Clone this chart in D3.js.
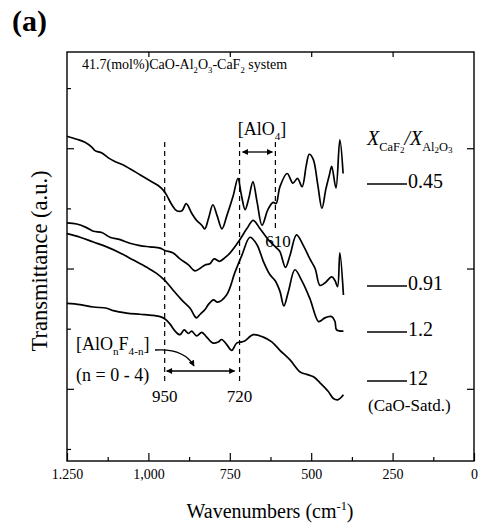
<!DOCTYPE html>
<html>
<head>
<meta charset="utf-8">
<script src="https://cdn.jsdelivr.net/npm/d3@7/dist/d3.min.js"></script>
<style>
  body { margin: 0; background: #fff; }
  svg text { font-family: "Liberation Serif", "DejaVu Serif", serif; }
</style>
</head>
<body>
<svg id="chart" width="481" height="526"></svg>
<script>
// IR transmittance spectra, 41.7 mol% CaO-Al2O3-CaF2 slags
// each series: [wavenumber (cm-1), transmittance (a.u., offset)]
const ratioLabels = ["0.45", "0.91", "1.2", "12"];

const spec045 = [
  [1250,3.10],[1220,3.075],[1195,3.05],[1174,3.01],[1164,2.98],[1143,2.96],[1123,2.92],
  [1103,2.89],[1077,2.86],[1057,2.83],[1026,2.78],[995,2.73],[970,2.69],[954,2.65],
  [944,2.61],[928,2.53],[913,2.48],[897,2.48],[884,2.54],[867,2.46],[852,2.40],[836,2.36],
  [827,2.33],[815,2.42],[802,2.53],[789,2.44],[774,2.33],[759,2.44],[740,2.60],[725,2.75],
  [715,2.62],[703,2.49],[692,2.58],[679,2.72],[666,2.55],[651,2.36],[633,2.49],[617,2.55],
  [608,2.54],[596,2.68],[574,2.79],[556,2.71],[542,2.75],[528,2.68],[515,2.86],[506,2.95],
  [494,2.91],[480,2.70],[467,2.50],[455,2.66],[444,2.78],[437,2.85],[424,2.67],[412,3.07],
  [402,2.79]
];

const spec091 = [
  [1250,2.38],[1220,2.37],[1190,2.34],[1169,2.31],[1143,2.30],[1118,2.26],[1087,2.24],
  [1057,2.21],[1026,2.19],[995,2.18],[964,2.17],[949,2.15],[924,2.13],[903,2.08],[877,2.03],
  [857,1.98],[842,2.00],[826,2.03],[811,2.04],[798,2.08],[782,2.06],[765,2.09],[749,2.13],
  [724,2.22],[698,2.33],[678,2.40],[657,2.33],[632,2.24],[606,2.17],[596,2.14],[579,2.01],
  [565,2.11],[545,2.28],[524,2.19],[504,2.08],[488,2.00],[473,1.86],[458,1.88],[437,1.93],
  [427,1.90],[419,1.85],[412,2.13],[401,1.78]
];

const spec12 = [
  [1250,2.29],[1210,2.26],[1169,2.22],[1128,2.18],[1087,2.13],[1046,2.07],[1005,2.01],
  [975,1.96],[949,1.90],[924,1.82],[898,1.74],[872,1.67],[857,1.60],[852,1.59],[841,1.62],
  [826,1.66],[816,1.70],[800,1.74],[788,1.72],[760,1.78],[734,1.97],[713,2.11],[688,2.26],
  [667,2.20],[647,2.06],[627,1.95],[611,1.90],[596,1.81],[584,1.69],[570,1.81],[550,1.99],
  [529,1.90],[504,1.75],[478,1.56],[468,1.57],[458,1.59],[437,1.60],[427,1.56],[422,1.49],
  [401,1.48]
];

const spec120 = [
  [1250,1.71],[1210,1.70],[1169,1.68],[1128,1.67],[1108,1.65],[1067,1.63],[1026,1.62],
  [985,1.61],[964,1.60],[949,1.58],[934,1.54],[918,1.48],[903,1.45],[890,1.49],[877,1.46],
  [867,1.48],[852,1.44],[836,1.47],[821,1.43],[801,1.38],[785,1.39],[775,1.41],[760,1.37],
  [744,1.32],[729,1.38],[713,1.39],[703,1.40],[678,1.45],[647,1.43],[621,1.39],[596,1.32],
  [565,1.24],[534,1.14],[514,1.12],[493,1.10],[473,1.05],[448,0.98],[432,0.92],[417,0.91],
  [401,0.95]
];

const seriesList = [spec045, spec091, spec12, spec120];

const xMajorTicks = [1250, 1000, 750, 500, 250, 0];
const xTickLabels = ["1.250", "1,000", "750", "500", "250", "0"];
const xMinorTicks = [1125, 875, 625, 375, 125];
const yMajorTicks = [1, 2, 3];
const yMinorTicks = [0.5, 1.5, 2.5, 3.5];
const bandMarks = [950, 720, 610];

// ---- layout ----
const FONT = "Liberation Serif, DejaVu Serif, serif";
const svg = d3.select("#chart");
const L = 67, R = 474, T = 52, B = 461;

const x = d3.scaleLinear().domain([1250, 0]).range([L, R]);
const y = d3.scaleLinear().domain([0.4, 3.8]).range([B, T]);

// arrowhead marker
const defs = svg.append("defs");
defs.append("marker")
  .attr("id", "head")
  .attr("viewBox", "0 0 10 10")
  .attr("refX", 9).attr("refY", 5)
  .attr("markerWidth", 9).attr("markerHeight", 6)
  .attr("markerUnits", "userSpaceOnUse")
  .attr("orient", "auto-start-reverse")
  .append("path").attr("d", "M0,0 L10,5 L0,10 z").attr("fill", "#000");

// axes
function clean(g) {
  g.select(".domain").remove();
  g.selectAll("line").attr("stroke", "#000").attr("stroke-width", 1.2);
}

svg.append("g").attr("transform", `translate(0,${B})`)
  .call(d3.axisBottom(x).tickValues(xMajorTicks)
    .tickFormat((d, i) => xTickLabels[i]).tickSizeInner(-8).tickSizeOuter(0).tickPadding(8))
  .call(clean)
  .call(g => g.attr("font-family", FONT).attr("font-size", 14)
    .selectAll("text").attr("fill", "#000"));

svg.append("g").attr("transform", `translate(0,${B})`)
  .call(d3.axisBottom(x).tickValues(xMinorTicks).tickFormat("").tickSizeInner(-4).tickSizeOuter(0))
  .call(clean);

svg.append("g").attr("transform", `translate(0,${T})`)
  .call(d3.axisTop(x).tickValues(xMajorTicks.slice(1, -1)).tickFormat("").tickSizeInner(-5).tickSizeOuter(0))
  .call(clean);

svg.append("g").attr("transform", `translate(${L},0)`)
  .call(d3.axisLeft(y).tickValues(yMajorTicks).tickFormat("").tickSizeInner(-7).tickSizeOuter(0))
  .call(clean);

svg.append("g").attr("transform", `translate(${L},0)`)
  .call(d3.axisLeft(y).tickValues(yMinorTicks).tickFormat("").tickSizeInner(-4).tickSizeOuter(0))
  .call(clean);

svg.append("g").attr("transform", `translate(${R},0)`)
  .call(d3.axisRight(y).tickValues(yMajorTicks).tickFormat("").tickSizeInner(-7).tickSizeOuter(0))
  .call(clean);

svg.append("rect")
  .attr("x", L).attr("y", T).attr("width", R - L).attr("height", B - T)
  .attr("fill", "none").attr("stroke", "#000").attr("stroke-width", 1.4);

// rich text with sub/superscripts: parts = [text, level, italic]
// level 1 = subscript, 2 = sub-subscript, -1 = superscript; shifts use relative dy
function rich(x0, y0, size, parts, anchor) {
  const t = svg.append("text").attr("x", x0).attr("y", y0)
    .attr("font-family", FONT).attr("font-size", size).attr("fill", "#000");
  if (anchor) t.attr("text-anchor", anchor);
  let cur = 0;
  parts.forEach(([s, lvl, it]) => {
    let fs = size, off = 0;
    if (lvl === 1) { fs = size * 0.62; off = size * 0.28; }
    if (lvl === 2) { fs = size * 0.45; off = size * 0.42; }
    if (lvl === -1) { fs = size * 0.62; off = -size * 0.38; }
    const sp = t.append("tspan").text(s).attr("font-size", fs);
    if (off !== cur) { sp.attr("dy", off - cur); cur = off; }
    if (it) sp.attr("font-style", "italic");
  });
  return t;
}

// band markers
bandMarks.forEach(w => {
  svg.append("line")
    .attr("x1", x(w)).attr("x2", x(w))
    .attr("y1", 142).attr("y2", w === 610 ? 228 : 381)
    .attr("stroke", "#000").attr("stroke-width", 1.2).attr("stroke-dasharray", "5,4");
});

// spectra
const line = d3.line().x(d => x(d[0])).y(d => y(d[1])).curve(d3.curveCatmullRom.alpha(0.5));
svg.append("g").selectAll("path").data(seriesList).join("path")
  .attr("d", line).attr("fill", "none").attr("stroke", "#000")
  .attr("stroke-width", 1.7).attr("stroke-linejoin", "round");

// double arrows between bands
svg.append("line")
  .attr("x1", x(720) + 3).attr("x2", x(610) - 3).attr("y1", 152).attr("y2", 152)
  .attr("stroke", "#000").attr("stroke-width", 1.3)
  .attr("marker-start", "url(#head)").attr("marker-end", "url(#head)");
svg.append("line")
  .attr("x1", x(950) + 2).attr("x2", x(720) - 5).attr("y1", 371).attr("y2", 371)
  .attr("stroke", "#000").attr("stroke-width", 1.3)
  .attr("marker-start", "url(#head)").attr("marker-end", "url(#head)");

// curved pointer
svg.append("path")
  .attr("d", "M155,350 Q184,348 194,366")
  .attr("fill", "none").attr("stroke", "#000").attr("stroke-width", 1.3)
  .attr("marker-end", "url(#head)");

// annotations
rich(12, 31, 30, [["(a)", 0]]).attr("font-weight", "bold");
rich(82, 69, 14, [["41.7(mol%)CaO-Al", 0], ["2", 1], ["O", 0], ["3", 1], ["-CaF", 0], ["2", 1], [" system", 0]]);
rich(262, 135, 18, [["[AlO", 0], ["4", 1], ["]", 0]], "middle");
rich(278, 247, 17, [["610", 0]], "middle");
rich(76, 350, 18, [["[AlO", 0], ["n", 1], ["F", 0], ["4-n", 1], ["]", 0]]);
rich(76, 381, 18, [["(n = 0 - 4)", 0]]);
rich(x(950), 402, 17, [["950", 0]], "middle");
rich(x(720), 402, 17, [["720", 0]], "middle");

// legend
rich(367, 145, 20, [["X", 0, true], ["CaF", 1], ["2", 2], ["/", 0, true], ["X", 0, true], ["Al", 1], ["2", 2], ["O", 1], ["3", 2]]);
const legendY = [184, 286, 332, 381];
ratioLabels.forEach((lab, i) => {
  svg.append("line").attr("x1", 367).attr("x2", 407)
    .attr("y1", legendY[i]).attr("y2", legendY[i])
    .attr("stroke", "#000").attr("stroke-width", 1.4);
  rich(408, legendY[i] + 4, 20, [[lab, 0]]);
});
rich(368, 411, 17, [["(CaO-Satd.)", 0]]);

// axis titles
rich(270, 518, 20, [["Wavenumbers (cm", 0], ["-1", -1], [")", 0]], "middle");
svg.append("text")
  .attr("transform", "translate(47,261) rotate(-90)")
  .attr("text-anchor", "middle").attr("font-family", FONT).attr("font-size", 22.5).attr("fill", "#000")
  .text("Transmittance (a.u.)");
</script>
</body>
</html>
